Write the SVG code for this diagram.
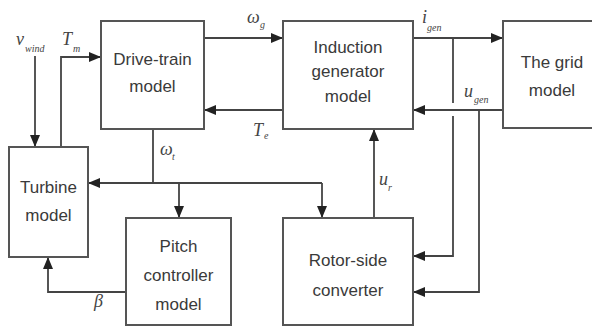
<svg xmlns="http://www.w3.org/2000/svg" width="592" height="326" viewBox="0 0 592 326">
<defs>
<marker id="ah" markerUnits="userSpaceOnUse" markerWidth="12" markerHeight="10" refX="12" refY="5" orient="auto">
<path d="M0,0 L12,5 L0,10 Z" fill="#222"/>
</marker>
<style>
.box{fill:#fff;stroke:#555;stroke-width:2}
.lbl{font-family:"Liberation Sans",Arial,sans-serif;font-size:17px;fill:#3a3a3a;text-anchor:middle}
.ln{fill:none;stroke:#444;stroke-width:1.8}
.m{font-family:"Liberation Serif","Times New Roman",serif;font-style:italic;font-size:18px;fill:#444}
.s{font-family:"Liberation Serif","Times New Roman",serif;font-style:italic;font-size:10px;fill:#444}
</style>
</defs>
<rect width="592" height="326" fill="#fff"/>
<g id="connectors">
<path class="ln" d="M35,56 V147" marker-end="url(#ah)"/>
<path class="ln" d="M61,147 V57 H101" marker-end="url(#ah)"/>
<path class="ln" d="M204,38 H283" marker-end="url(#ah)"/>
<path class="ln" d="M283,110 H204" marker-end="url(#ah)"/>
<path class="ln" d="M153,129 V183"/>
<path class="ln" d="M322,183 H88" marker-end="url(#ah)"/>
<path class="ln" d="M322,183 V218" marker-end="url(#ah)"/>
<path class="ln" d="M179,183 V218" marker-end="url(#ah)"/>
<path class="ln" d="M126,292 H48 V257" marker-end="url(#ah)"/>
<path class="ln" d="M413,38 H503" marker-end="url(#ah)"/>
<path class="ln" d="M453,38 V103"/>
<path class="ln" d="M453,116 V256 H413" marker-end="url(#ah)"/>
<path class="ln" d="M503,110 H413" marker-end="url(#ah)"/>
<path class="ln" d="M479,110 V292 H413" marker-end="url(#ah)"/>
<path class="ln" d="M374,218 V129" marker-end="url(#ah)"/>
</g>
<g id="drive-train">
<rect class="box" x="101" y="21" width="103" height="108"/>
<text class="lbl" x="152.5" y="65">Drive-train</text>
<text class="lbl" x="152.5" y="92">model</text>
</g>
<g id="induction-generator">
<rect class="box" x="283" y="21" width="130" height="108"/>
<text class="lbl" x="348" y="53">Induction</text>
<text class="lbl" x="348" y="77">generator</text>
<text class="lbl" x="348" y="102">model</text>
</g>
<g id="grid">
<rect class="box" x="503" y="21" width="100" height="107"/>
<text class="lbl" x="552" y="68">The grid</text>
<text class="lbl" x="552" y="96">model</text>
</g>
<g id="turbine">
<rect class="box" x="9" y="147" width="79" height="110"/>
<text class="lbl" x="48.5" y="193">Turbine</text>
<text class="lbl" x="48.5" y="221">model</text>
</g>
<g id="pitch-controller">
<rect class="box" x="126" y="218" width="105" height="107"/>
<text class="lbl" x="178.5" y="252">Pitch</text>
<text class="lbl" x="178.5" y="281">controller</text>
<text class="lbl" x="178.5" y="310">model</text>
</g>
<g id="rotor-side-converter">
<rect class="box" x="283" y="218" width="130" height="107"/>
<text class="lbl" x="348" y="266">Rotor-side</text>
<text class="lbl" x="348" y="296">converter</text>
</g>
<g id="labels">
<text class="m" x="16" y="45">v</text><text class="s" x="25" y="52">wind</text>
<text class="m" x="62" y="45">T</text><text class="s" x="73" y="52">m</text>
<text class="m" x="247" y="23">ω</text><text class="s" x="260" y="28">g</text>
<text class="m" x="253" y="136">T</text><text class="s" x="264" y="139">e</text>
<text class="m" x="160" y="155">ω</text><text class="s" x="172" y="160">t</text>
<text class="m" x="422" y="23">i</text><text class="s" x="427" y="31">gen</text>
<text class="m" x="464" y="97">u</text><text class="s" x="474" y="103">gen</text>
<text class="m" x="379" y="185">u</text><text class="s" x="388" y="191">r</text>
<text class="m" x="94" y="307">β</text>
</g>
</svg>
